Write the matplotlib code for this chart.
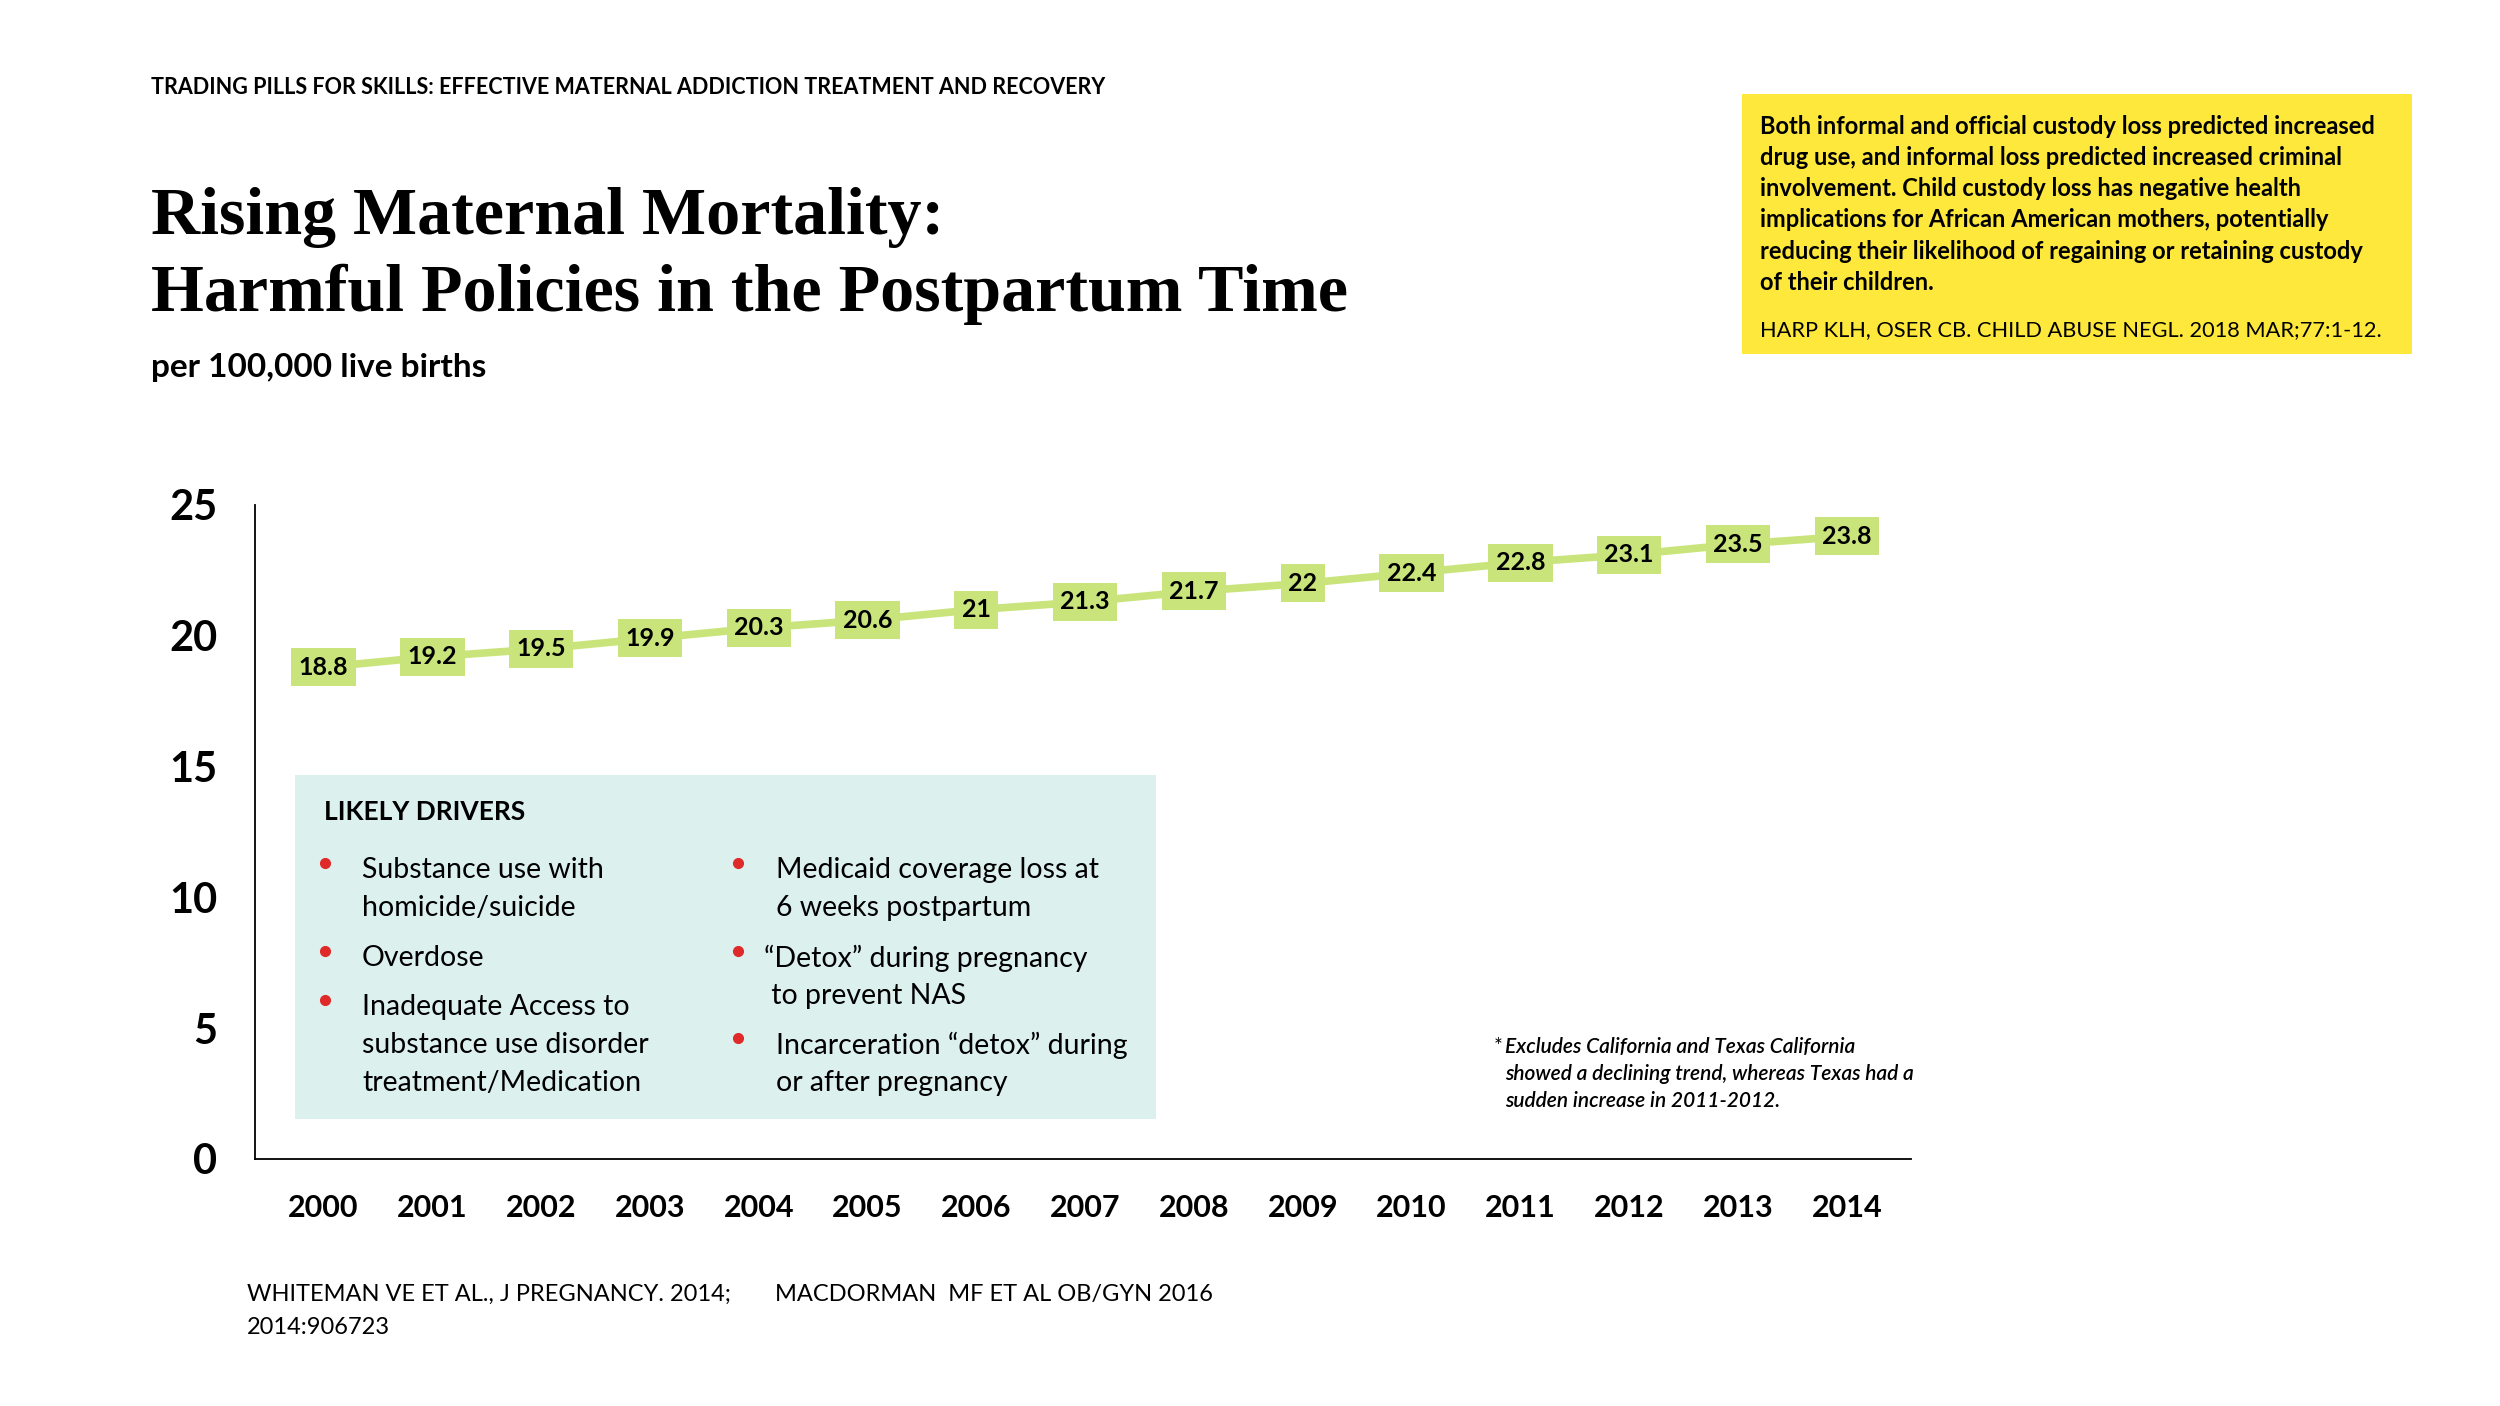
import matplotlib.pyplot as plt
from matplotlib.patches import Rectangle
from matplotlib.lines import Line2D

# ------------------------------------------------------------
# data
# ------------------------------------------------------------
years = [2000, 2001, 2002, 2003, 2004, 2005, 2006, 2007,
         2008, 2009, 2010, 2011, 2012, 2013, 2014]
rates = [18.8, 19.2, 19.5, 19.9, 20.3, 20.6, 21, 21.3,
         21.7, 22, 22.4, 22.8, 23.1, 23.5, 23.8]
y_ticks = [0, 5, 10, 15, 20, 25]

drivers_left = ["Substance use with\nhomicide/suicide",
                "Overdose",
                "Inadequate Access to\nsubstance use disorder\ntreatment/Medication"]
drivers_right = ["Medicaid coverage loss at\n6 weeks postpartum",
                 "\u201cDetox\u201d during pregnancy\n to prevent NAS",
                 "Incarceration \u201cdetox\u201d during\nor after pregnancy"]

callout_lines = ["Both informal and official custody loss predicted increased",
                 "drug use, and informal loss predicted increased criminal",
                 "involvement. Child custody loss has negative health",
                 "implications for African American mothers, potentially",
                 "reducing their likelihood of regaining or retaining custody",
                 "of their children."]
callout_ref = "HARP KLH, OSER CB. CHILD ABUSE NEGL. 2018 MAR;77:1-12."

footnote_lines = ["Excludes California and Texas California",
                  "showed a declining trend, whereas Texas had a",
                  "sudden increase in 2011-2012."]

# ------------------------------------------------------------
# style
# ------------------------------------------------------------
C_LINE = '#c8e47a'
C_YELLOW = '#fde83b'
C_TEAL = '#dcf0ee'
C_RED = '#e02a2a'
plt.rcParams.update({'font.family': ['Lato', 'DejaVu Sans']})

W, H = 2500, 1406
fig = plt.figure(figsize=(25, 14.06), dpi=100)


def fx(px):
    return px / W


def fy(py):
    return 1 - py / H


# ------------------------------------------------------------
# chart
# ------------------------------------------------------------
ax = fig.add_axes([fx(255), fy(1159), fx(1911) - fx(255), fy(505) - fy(1159)])
ax.patch.set_visible(False)
ax.plot(years, rates, color=C_LINE, linewidth=5.5, solid_capstyle='butt', zorder=2)
for yr, v in zip(years, rates):
    ax.text(yr, v, f'{v:g}', ha='center', va='center', fontsize=18,
            fontweight='bold', color='black', zorder=3,
            bbox=dict(boxstyle='square,pad=0.3', fc=C_LINE, ec='none'))

ax.set_xlim(1999.37, 2014.59)
ax.set_ylim(0, 25)
ax.set_xticks(years)
ax.set_xticklabels([str(y) for y in years], fontsize=22, fontweight='bold')
ax.set_yticks(y_ticks)
ax.set_yticklabels([str(t) for t in y_ticks], fontsize=30, fontweight='bold')
ax.tick_params(axis='y', length=0, pad=27)
ax.tick_params(axis='x', length=0, pad=25)
for s in ['top', 'right']:
    ax.spines[s].set_visible(False)
for s in ['left', 'bottom']:
    ax.spines[s].set_linewidth(1.3)

# ------------------------------------------------------------
# header text
# ------------------------------------------------------------
fig.text(fx(151), fy(87), 'TRADING PILLS FOR SKILLS: EFFECTIVE MATERNAL ADDICTION TREATMENT AND RECOVERY',
         fontsize=15.5, fontweight='bold', va='center', ha='left')
fig.text(fx(151), fy(218), 'Rising Maternal Mortality:', family='Liberation Serif',
         fontsize=49, fontweight='bold', va='center', ha='left')
fig.text(fx(151), fy(294), 'Harmful Policies in the Postpartum Time', family='Liberation Serif',
         fontsize=49, fontweight='bold', va='center', ha='left')
fig.text(fx(151), fy(367), 'per 100,000 live births', fontsize=24, fontweight='bold',
         va='center', ha='left')

# yellow callout
fig.add_artist(Rectangle((fx(1742), fy(354)), fx(2412) - fx(1742), fy(94) - fy(354),
                         transform=fig.transFigure, fc=C_YELLOW, ec='none'))
for i, line in enumerate(callout_lines):
    fig.text(fx(1760), fy(126 + i * 31.3), line, fontsize=17, fontweight='bold',
             va='center', ha='left')
fig.text(fx(1760), fy(330), callout_ref, fontsize=15.7,
         va='center', ha='left')

# ------------------------------------------------------------
# likely drivers box
# ------------------------------------------------------------
fig.add_artist(Rectangle((fx(295), fy(1119)), fx(1156) - fx(295), fy(775) - fy(1119),
                         transform=fig.transFigure, fc=C_TEAL, ec='none'))
fig.text(fx(324), fy(812), 'LIKELY DRIVERS', fontsize=19, fontweight='bold',
         va='center', ha='left')

LINE_H = 38
for col_x, bullet_x, items, starts in [(362, 325, drivers_left, [870, 958, 1007]),
                                       (776, 738, drivers_right, [870, 958, 1045])]:
    for text, y0 in zip(items, starts):
        tx = col_x - 12 if text.startswith('\u201c') else col_x
        for j, part in enumerate(text.split('\n')):
            fig.text(fx(tx), fy(y0 + j * LINE_H), part, fontsize=20.5,
                     va='center', ha='left')
        fig.add_artist(Line2D([fx(bullet_x)], [fy(y0 - 7)], marker='o', markersize=7,
                              color=C_RED, transform=fig.transFigure))

# footnote
fig.text(fx(1494), fy(1047), '*', fontsize=15, va='center', ha='left')
for i, line in enumerate(footnote_lines):
    fig.text(fx(1505), fy(1047 + i * 27), line, fontsize=15, style='italic',
             fontweight='semibold', va='center', ha='left')

# sources
fig.text(fx(247), fy(1294), 'WHITEMAN VE ET AL., J PREGNANCY. 2014;', fontsize=17,
         va='center', ha='left')
fig.text(fx(775), fy(1294), 'MACDORMAN  MF ET AL OB/GYN 2016', fontsize=17,
         va='center', ha='left')
fig.text(fx(247), fy(1328), '2014:906723', fontsize=17,
         va='center', ha='left')

plt.savefig('out.png', dpi=100)
